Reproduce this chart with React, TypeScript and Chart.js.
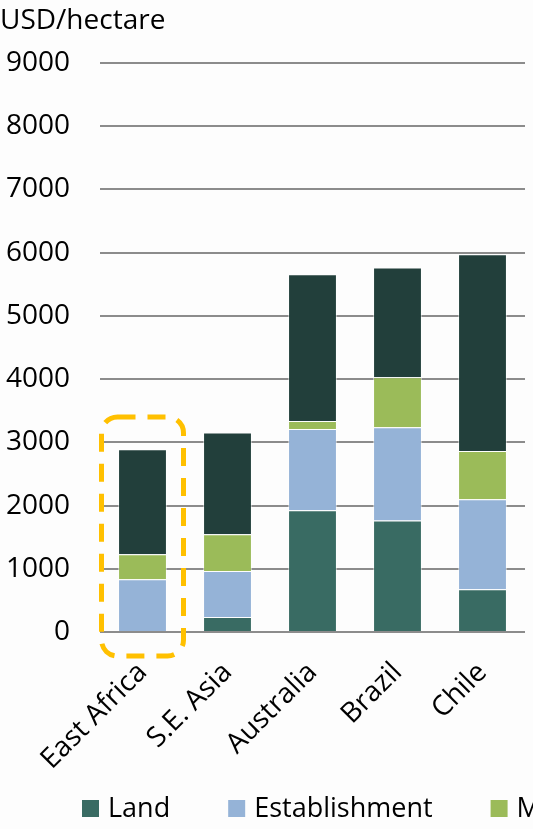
import React, { useEffect, useRef } from "react";
import { Chart, registerables } from "chart.js";

Chart.register(...registerables);

const categories = ["East Africa", "S.E. Asia", "Australia", "Brazil", "Chile"];
const landValues = [0, 237, 1926, 1762, 675];
const establishmentValues = [834, 728, 1286, 1477, 1424];
const maintenanceValues = [395, 581, 127, 791, 765];
const otherValues = [1660, 1608, 2321, 1735, 3112];
const seriesNames = ["Land", "Establishment", "Maintenance", "Harvesting"];
const seriesColors = ["#396B63", "#95B3D7", "#9BBB59", "#223F3B"];
const yTicks = [0, 1000, 2000, 3000, 4000, 5000, 6000, 7000, 8000, 9000];
const unitLabel = "USD/hectare";
const highlightIndex = 0;
const highlightTop = 3400;

const FONT = "'Open Sans', 'Liberation Sans', sans-serif";

export default function App() {
  const ref = useRef<HTMLCanvasElement | null>(null);

  useEffect(() => {
    if (!ref.current) return;
    const bgPlugin = {
      id: "bg",
      beforeDraw(chart: any) {
        const ctx = chart.ctx;
        ctx.save();
        ctx.fillStyle = "#fdfdfd";
        ctx.fillRect(0, 0, chart.width, chart.height);
        ctx.restore();
      },
    };
    const titlePlugin = {
      id: "unitTitle",
      afterDraw(chart: any) {
        const ctx = chart.ctx;
        ctx.save();
        ctx.font = `28px ${FONT}`;
        ctx.fillStyle = "#000";
        ctx.textBaseline = "alphabetic";
        ctx.textAlign = "left";
        ctx.fillText(unitLabel, 0, 29);
        ctx.restore();
      },
    };
    const legendPlugin = {
      id: "customLegend",
      afterDraw(chart: any) {
        const ctx = chart.ctx;
        ctx.save();
        ctx.font = `27px ${FONT}`;
        ctx.textBaseline = "middle";
        ctx.textAlign = "left";
        let x = 82;
        const y = 809;
        chart.data.datasets.forEach((ds: any) => {
          ctx.fillStyle = ds.backgroundColor;
          ctx.fillRect(x, y - 9, 17, 17);
          ctx.fillStyle = "#000";
          ctx.fillText(ds.label, x + 26, y);
          const w = ctx.measureText(ds.label).width;
          x = x + 26 + w + 58;
        });
        ctx.restore();
      },
    };
    const highlightPlugin = {
      id: "highlight",
      afterDatasetsDraw(chart: any) {
        const xs = chart.scales.x;
        const ys = chart.scales.y;
        const cx = xs.getPixelForValue(highlightIndex);
        const left = cx - 41;
        const right = cx + 41;
        const top = ys.getPixelForValue(highlightTop);
        const bottom = ys.getPixelForValue(0) + 24;
        const ctx = chart.ctx;
        ctx.save();
        ctx.strokeStyle = "#FFC000";
        ctx.lineWidth = 5;
        ctx.setLineDash([18, 12]);
        ctx.beginPath();
        ctx.roundRect(left, top, right - left, bottom - top, 16);
        ctx.stroke();
        ctx.restore();
      },
    };

    const valueSets = [landValues, establishmentValues, maintenanceValues, otherValues];
    const chart = new Chart(ref.current, {
      type: "bar",
      data: {
        labels: categories,
        datasets: valueSets.map((vals, i) => ({
          label: seriesNames[i],
          data: vals,
          backgroundColor: seriesColors[i],
          borderColor: "rgba(255,255,255,0.5)",
          borderWidth: 1,
          categoryPercentage: 1,
          barPercentage: 0.575,
        })),
      },
      options: {
        responsive: false,
        animation: false,
        layout: { padding: { top: 63, right: 8, left: 0, bottom: 0 } },
        plugins: {
          legend: { display: false },
          title: { display: false },
          tooltip: { enabled: false },
        },
        scales: {
          x: {
            stacked: true,
            grid: { display: false, drawTicks: false },
            border: { display: false },
            ticks: {
              color: "#000",
              font: { family: FONT, size: 28 },
              minRotation: 45,
              maxRotation: 45,
              padding: 24,
              autoSkip: false,
            },
            afterFit(scale: any) {
              scale.height = 197;
            },
          },
          y: {
            stacked: true,
            min: 0,
            max: 9000,
            afterBuildTicks(scale: any) {
              scale.ticks = yTicks.map((v) => ({ value: v }));
            },
            grid: { color: "#8c8c8c", lineWidth: 2, drawTicks: false },
            border: { display: false },
            ticks: {
              color: "#000",
              font: { family: FONT, size: 28 },
              padding: 30,
              callback: (v: any) => String(v),
            },
            afterFit(scale: any) {
              scale.width = 100;
            },
          },
        },
      },
      plugins: [bgPlugin, highlightPlugin, titlePlugin, legendPlugin],
    });
    return () => chart.destroy();
  }, []);

  return (
    <div style={{ position: "absolute", left: 0, top: 0, width: 533, height: 829, overflow: "hidden" }}>
      <canvas ref={ref} width={533} height={829} style={{ display: "block" }} />
    </div>
  );
}
